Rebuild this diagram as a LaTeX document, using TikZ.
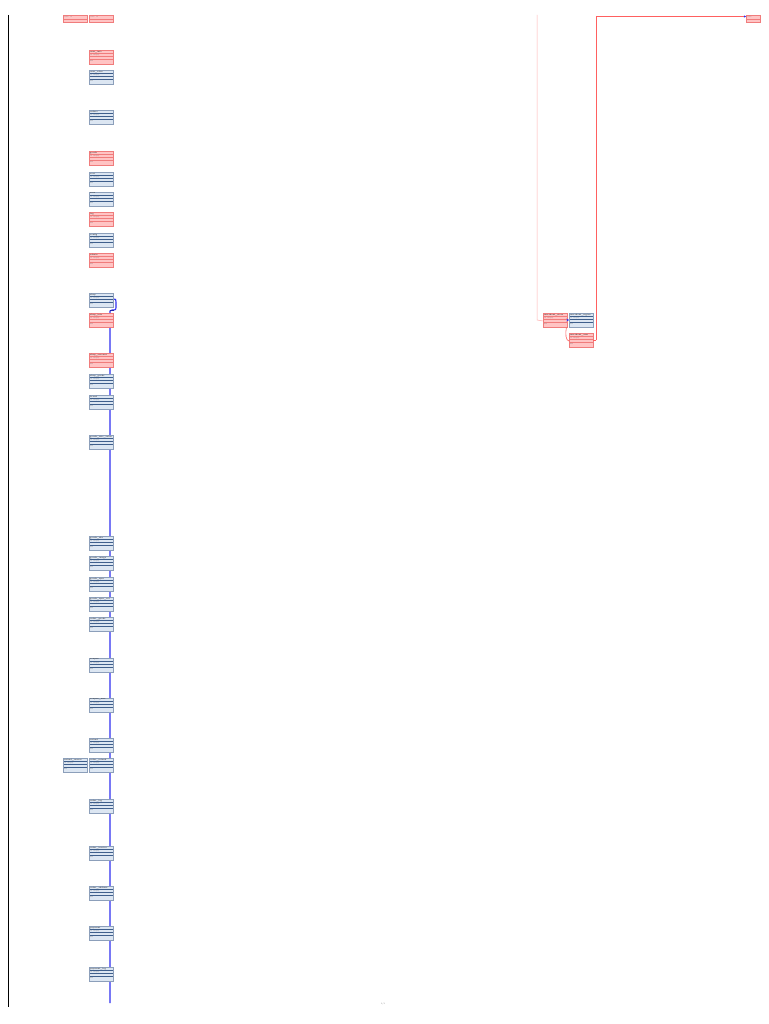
\documentclass[tikz,border=0pt]{standalone}
\usetikzlibrary{arrows.meta}
\definecolor{rfill}{HTML}{FFC4C4}
\definecolor{rline}{HTML}{F07C7C}
\definecolor{bfill}{HTML}{DCE6F2}
\definecolor{bline}{HTML}{3F5F8C}
\definecolor{conn}{HTML}{3030F0}
\definecolor{rconn}{HTML}{FF6060}
\definecolor{rthin}{HTML}{FFB0B0}
\tikzset{
  tbbase/.style={anchor=north west, minimum width=24pt, inner sep=0pt, line width=0.4pt},
  tbr/.style={tbbase, draw=rline, fill=rfill, path picture={
     \draw[rline, line width=0.7pt] ([yshift=-3.2pt]path picture bounding box.north west) -- ([yshift=-3.2pt]path picture bounding box.north east);
     \draw[rline, line width=0.7pt] ([yshift=-6.5pt]path picture bounding box.north west) -- ([yshift=-6.5pt]path picture bounding box.north east);
     \draw[rline, line width=0.7pt] ([yshift=-9.5pt]path picture bounding box.north west) -- ([yshift=-9.5pt]path picture bounding box.north east);}},
  tbb/.style={tbbase, draw=bline!60, fill=bfill, path picture={
     \draw[bline, line width=0.8pt] ([yshift=-3.2pt]path picture bounding box.north west) -- ([yshift=-3.2pt]path picture bounding box.north east);
     \draw[bline, line width=0.8pt] ([yshift=-6.5pt]path picture bounding box.north west) -- ([yshift=-6.5pt]path picture bounding box.north east);
     \draw[bline, line width=0.8pt] ([yshift=-9.5pt]path picture bounding box.north west) -- ([yshift=-9.5pt]path picture bounding box.north east);}},
  tbs/.style={tbbase, draw=rline, fill=rfill, minimum height=7pt, path picture={
     \draw[rline, line width=0.7pt] ([yshift=-4pt]path picture bounding box.north west) -- ([yshift=-4pt]path picture bounding box.north east);}},
  ttl/.style={anchor=north west, inner sep=0pt, font=\fontsize{1.8}{2}\selectfont\bfseries, text=black!85},
  fld/.style={anchor=north west, inner sep=0pt, font=\fontsize{1.5}{2}\selectfont, text=black!60},
  bconn/.style={draw=conn, line width=1.1pt},
  rconnl/.style={draw=rconn, line width=0.9pt},
  rthinl/.style={draw=rthin, line width=0.5pt}
}
% name, x, y, r/b, title
\newcommand\tbx[5]{%
  \node[tb#4, minimum height=14pt] (#1) at (#2,#3) {};
  \node[ttl] at ([shift={(1pt,-0.7pt)}]#1.north west) {#5};
  \node[fld] at ([shift={(1pt,-4.2pt)}]#1.north west) {id\ \ int(11)};
  \node[fld] at ([shift={(1pt,-10.6pt)}]#1.north west) {PK};}
\newcommand\tbsm[4]{%
  \node[tbs, minimum width=#4pt] (#1) at (#2,#3) {};
  \node[fld] at ([shift={(1pt,-1.2pt)}]#1.north west) {table\quad id};}
\begin{document}
\begin{tikzpicture}[x=1pt,y=-1pt]
\useasboundingbox[fill=white] (0,0) rectangle (768,1024);
% left border line
\coordinate (lt) at (8,15); \coordinate (lb) at (8,1007);
\draw[black, line width=0.8pt] (lt) -- (lb);
% main blue spine
\coordinate (sp1) at (116,306);
\coordinate (spend) at (110,1003);
\draw[bconn] (113,299) coordinate (sp0) .. controls (116,299) .. (116,302) -- (sp1) .. controls (116,310) .. (112,310) -- (110,311) -- (spend);
\draw[conn!70!black, line width=1.4pt] (110,310.5) -- (114,310.5);
% right connectors
\coordinate (rt1) at (537,15);
\coordinate (rt2) at (596,16);
\draw[rthinl] (rt1) -- (537,320) -- (543,321);
\draw[rconnl] (596,340) -- (rt2) -- (744,16);
% boxes
\tbsm{s1}{63}{15}{24}
\tbsm{s2}{89}{15}{24}
\node[tbs, minimum width=14pt] (s3) at (746,15) {};
\node[fld] at ([shift={(1pt,-1.2pt)}]s3.north west) {table};
\draw[conn, line width=0.6pt, -{Stealth[length=2pt,width=2pt]}] (743.5,16.5) -- (s3.west |- 0,16.5);
\tbx{t1}{89}{50}{r}{user\_info}
\tbx{t2}{89}{70}{b}{user\_roles}
\tbx{t3}{89}{110}{b}{orders}
\tbx{t4}{89}{151}{r}{goods}
\tbx{t5}{89}{172}{b}{cart}
\tbx{t6}{89}{192}{b}{area}
\tbx{t7}{89}{212}{r}{log}
\tbx{t8}{89}{233}{b}{config}
\tbx{t9}{89}{253}{r}{admin}
\tbx{t10}{89}{293}{b}{shop}
\tbx{t11}{89}{313}{r}{shop\_info}
\tbx{t12}{89}{353}{r}{shop\_account}
\tbx{t13}{89}{374}{b}{shop\_goods}
\tbx{t14}{89}{395}{b}{brand}
\tbx{t15}{89}{435}{b}{goods\_attr\_value}
\tbx{t16}{89}{536}{b}{goods\_sku}
\tbx{t17}{89}{556}{b}{goods\_image}
\tbx{t18}{89}{577}{b}{goods\_spec}
\tbx{t19}{89}{597}{b}{goods\_spec\_val}
\tbx{t20}{89}{617}{b}{order\_goods}
\tbx{t21}{89}{658}{b}{coupon}
\tbx{t22}{89}{698}{b}{coupon\_user}
\tbx{t23}{89}{738}{b}{refund}
\tbx{t24}{89}{758}{b}{order\_refund}
\tbx{t25}{63}{758}{b}{refund\_reason}
\tbx{t26}{89}{799}{b}{order\_log}
\tbx{t27}{89}{846}{b}{order\_invoice}
\tbx{t28}{89}{886}{b}{order\_address}
\tbx{t29}{89}{926}{b}{payment}
\tbx{t30}{89}{967}{b}{payment\_log}
% right group
\tbx{r1}{543}{313}{r}{merchant\_store}
\tbx{r2}{569}{313}{b}{merchant\_region}
\tbx{r3}{569}{333}{r}{merchant\_user}
\draw[conn, line width=0.7pt, -{Stealth[length=2.5pt,width=2.5pt]}] (r1.east |- 0,320) -- (r2.west |- 0,320);
\draw[rconnl, line width=0.6pt] (r1.south east) ++(-1,0) .. controls (565,334) and (566,341) .. (r3.west |- 0,341);
\draw[rconnl] (r3.east |- 0,340) -- (596,340);
% footer
\node[font=\fontsize{2}{2.5}\selectfont, text=black!60, inner sep=0pt] (pg) at (383,1004) {1/1};
\end{tikzpicture}
\end{document}
